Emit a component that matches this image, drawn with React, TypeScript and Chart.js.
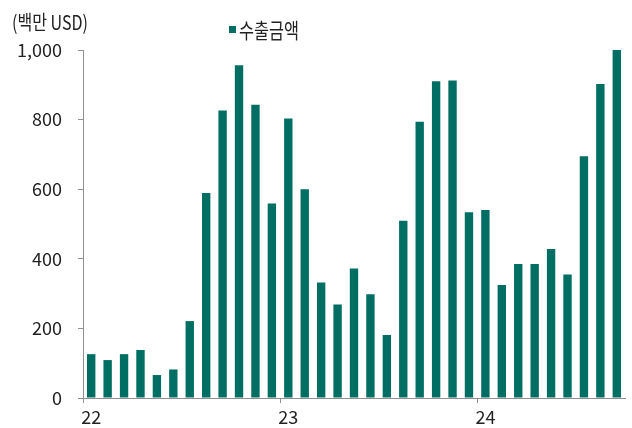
import React, { useEffect, useRef } from "react";
import { Chart, registerables } from "chart.js";

Chart.register(...registerables);

const categories = [
  "22.01", "22.02", "22.03", "22.04", "22.05", "22.06", "22.07", "22.08", "22.09", "22.10", "22.11", "22.12",
  "23.01", "23.02", "23.03", "23.04", "23.05", "23.06", "23.07", "23.08", "23.09", "23.10", "23.11", "23.12",
  "24.01", "24.02", "24.03", "24.04", "24.05", "24.06", "24.07", "24.08", "24.09",
];

const exportValues = [
  126, 109, 126, 138, 66, 82, 221, 589, 826, 956, 843, 559,
  803, 600, 332, 269, 372, 298, 181, 509, 794, 910, 912, 534,
  540, 325, 385, 385, 428, 355, 695, 902, 1000,
];

const seriesName = "수출금액";
const unitLabel = "(백만 USD)";
const yTicks = [0, 200, 400, 600, 800, 1000];

const BAR_COLOR = "#006E62";
const AXIS_COLOR = "#8f8f8f";
const TEXT_COLOR = "#222222";
const FONT = "'Noto Sans CJK KR', 'Noto Sans', sans-serif";

const yearLabel = (i: number) => {
  const c = categories[i];
  return c && c.endsWith(".01") ? c.slice(0, 2) : "";
};

const drawScaledText = (
  ctx: CanvasRenderingContext2D,
  text: string,
  x: number,
  y: number,
  size: number,
  targetWidth: number
) => {
  ctx.save();
  ctx.font = `${size}px ${FONT}`;
  ctx.textBaseline = "middle";
  ctx.textAlign = "left";
  const w = ctx.measureText(text).width;
  const sx = targetWidth / w;
  ctx.translate(x, y);
  ctx.scale(sx, 1);
  ctx.fillText(text, 0, 0);
  ctx.restore();
};

const overlayPlugin = {
  id: "overlayText",
  afterDraw(chart: any) {
    const ctx = chart.ctx as CanvasRenderingContext2D;
    ctx.save();
    ctx.fillStyle = TEXT_COLOR;
    drawScaledText(ctx, unitLabel, 12, 22, 20, 76);
    ctx.fillStyle = BAR_COLOR;
    ctx.fillRect(229, 26, 7, 7);
    ctx.fillStyle = TEXT_COLOR;
    drawScaledText(ctx, seriesName, 239, 30.5, 21, 60);
    ctx.restore();
  },
};

export default function App() {
  const ref = useRef<HTMLCanvasElement | null>(null);

  useEffect(() => {
    if (!ref.current) return;
    const chart = new Chart(ref.current, {
      type: "bar",
      data: {
        labels: categories,
        datasets: [
          {
            label: seriesName,
            data: exportValues,
            backgroundColor: BAR_COLOR,
            borderWidth: 0,
            categoryPercentage: 1,
            barPercentage: 0.51,
          },
        ],
      },
      options: {
        animation: false,
        responsive: false,
        devicePixelRatio: 1,
        layout: { padding: { left: 0, right: 7, top: 50, bottom: 0 } },
        plugins: {
          legend: { display: false },
          tooltip: { enabled: false },
          title: { display: false },
        },
        scales: {
          x: {
            offset: true,
            afterFit: (s: any) => {
              s.height = 30;
            },
            grid: {
              offset: true,
              drawOnChartArea: false,
              drawTicks: true,
              tickLength: 5,
              color: (c: any) => (c.index < categories.length && yearLabel(c.index) ? AXIS_COLOR : "rgba(0,0,0,0)"),
            },
            border: { display: true, color: AXIS_COLOR, width: 1 },
            ticks: {
              autoSkip: false,
              maxRotation: 0,
              minRotation: 0,
              padding: 3,
              color: TEXT_COLOR,
              font: { size: 18, family: FONT },
              callback: (_v: any, i: number) => yearLabel(i),
            },
          },
          y: {
            min: 0,
            max: 1000,
            afterFit: (s: any) => {
              s.width = 83;
            },
            afterBuildTicks: (s: any) => {
              s.ticks = yTicks.map((v) => ({ value: v }));
            },
            grid: {
              drawOnChartArea: false,
              drawTicks: true,
              tickLength: 5,
              color: AXIS_COLOR,
            },
            border: { display: true, color: AXIS_COLOR, width: 1 },
            ticks: {
              padding: 16,
              color: TEXT_COLOR,
              font: { size: 18, family: FONT },
              callback: (v: any) => Number(v).toLocaleString("en-US"),
            },
          },
        },
      },
      plugins: [overlayPlugin],
    });
    return () => chart.destroy();
  }, []);

  return (
    <div style={{ position: "fixed", left: 0, top: 0, width: 632, height: 428, background: "#fff" }}>
      <canvas ref={ref} width={632} height={428} style={{ width: 632, height: 428, display: "block" }} />
    </div>
  );
}
